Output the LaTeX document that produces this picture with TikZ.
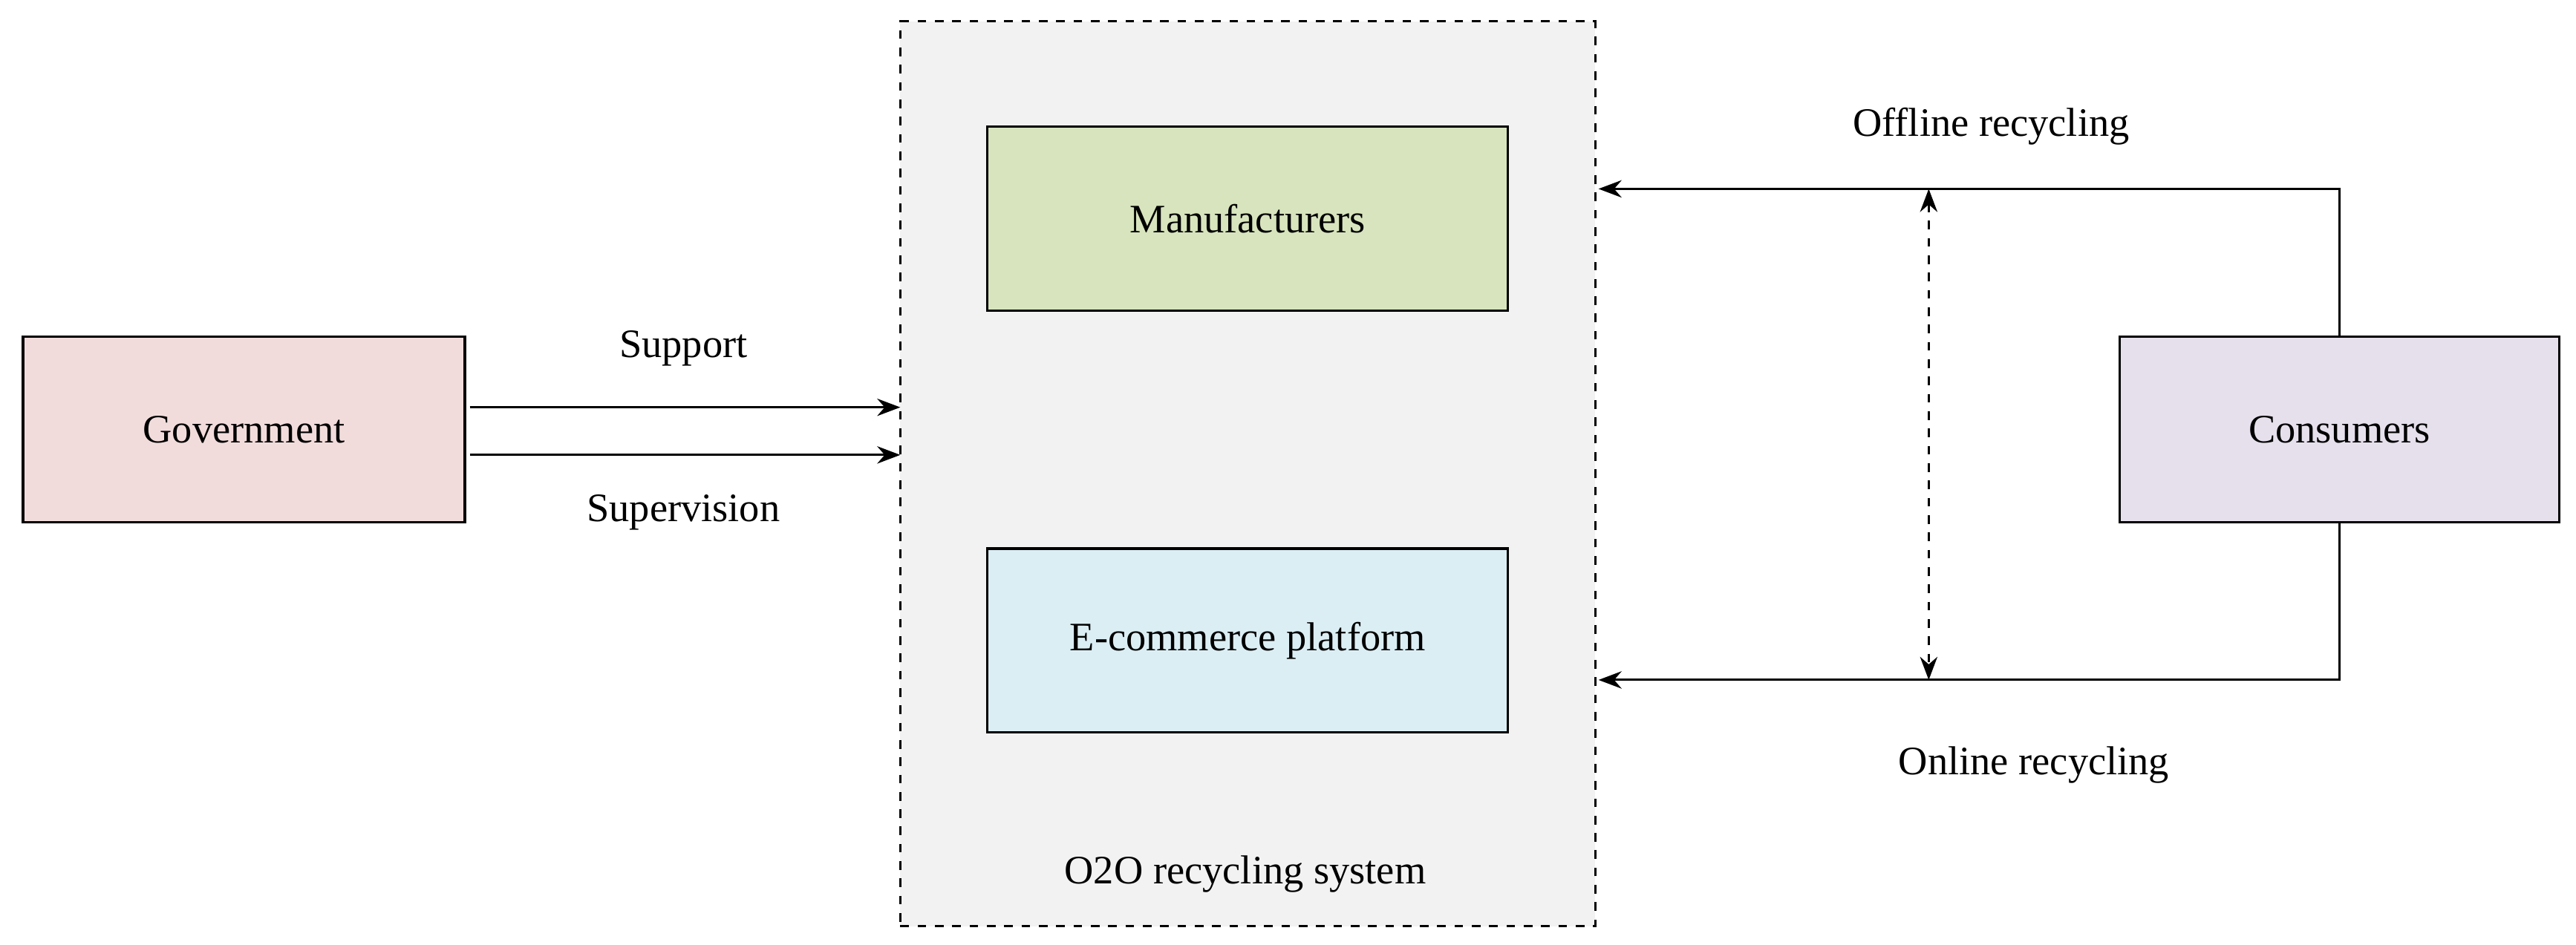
\documentclass[tikz,border=0pt]{standalone}
\usepackage{fontspec}
\setmainfont{Liberation Serif}
\usetikzlibrary{arrows.meta}
\definecolor{sysgray}{HTML}{F2F2F2}
\definecolor{govred}{HTML}{F2DCDB}
\definecolor{mangreen}{HTML}{D7E4BD}
\definecolor{ecblue}{HTML}{DBEEF4}
\definecolor{conpurple}{HTML}{E6E0EC}
\begin{document}
\begin{tikzpicture}[x=0.02cm,y=-0.02cm,
  box/.style={draw,line width=0.8pt,minimum width=6.3cm,minimum height=2.26cm,font=\fontsize{14}{16}\selectfont},
  lbl/.style={font=\fontsize{14}{16}\selectfont},
  arr/.style={-{Stealth[length=8pt,width=6pt]},line width=0.8pt}]
\useasboundingbox (0,0) rectangle (1568,575);
\node[draw,dashed,line width=0.8pt,fill=sysgray,minimum width=8.46cm,minimum height=11.02cm] (sys) at (759.5,288.5) {};
\node[lbl] (syslbl) at (758,532) {O2O recycling system};
\node[box,fill=govred,minimum width=5.38cm] (gov) at (148.5,261.5) {Government};
\node[box,fill=mangreen,minimum width=6.34cm,minimum height=2.24cm] (man) at (759.5,133) {Manufacturers};
\node[box,fill=ecblue,minimum width=6.34cm,minimum height=2.24cm] (ec) at (759.5,390) {E-commerce platform};
\node[box,fill=conpurple,minimum width=5.36cm] (con) at (1424,261.5) {Consumers};
\coordinate (s1) at (286,248); \coordinate (s2) at (548,248);
\coordinate (v1) at (286,277); \coordinate (v2) at (548,277);
\draw[arr] (s1) -- (s2);
\draw[arr] (v1) -- (v2);
\node[lbl] (sup) at (416,212) {Support};
\node[lbl] (supv) at (416,312) {Supervision};
\coordinate (off) at (973,115); \coordinate (onl) at (973,414);
\draw[arr] (con.north) |- (off);
\draw[arr] (con.south) |- (onl);
\coordinate (d1) at (1174,115); \coordinate (d2) at (1174,414);
\draw[{Stealth[length=8pt,width=6pt]}-{Stealth[length=8pt,width=6pt]},dashed,line width=0.8pt] (d1) -- (d2);
\node[lbl] (offl) at (1212,77) {Offline recycling};
\node[lbl] (onll) at (1238,466) {Online recycling};
\end{tikzpicture}
\end{document}
